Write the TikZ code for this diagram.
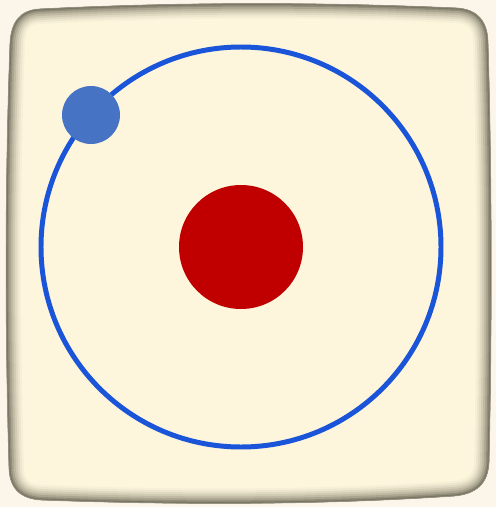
\documentclass[tikz,border=0pt]{standalone}
\definecolor{paper}{RGB}{252,246,234}
\definecolor{cushion}{RGB}{253,245,220}
\definecolor{rim}{RGB}{100,96,78}
\definecolor{orbit}{RGB}{26,84,216}
\definecolor{electron}{RGB}{70,115,196}
\definecolor{nucleus}{RGB}{192,0,0}
\tikzset{
  pillow/.style={insert path={(40,9) .. controls (180,2) and (320,2) .. (456,8)
    .. controls (478,9) and (488,22) .. (488,44)
    .. controls (492,180) and (492,330) .. (489,462)
    .. controls (488,484) and (476,494) .. (454,496)
    .. controls (320,505) and (180,505) .. (42,500)
    .. controls (20,499) and (9,488) .. (9,466)
    .. controls (5,330) and (5,180) .. (10,44)
    .. controls (11,22) and (20,10) .. (40,9) -- cycle}}
}
\begin{document}
\begin{tikzpicture}[x=0.02cm,y=-0.02cm]
    \fill[paper] (0,0) rectangle (496,507);
    \useasboundingbox (0,0) rectangle (496,507);
    \fill[cushion, pillow];
    \begin{scope}
    \clip[pillow];
    \foreach \w/\c in {30/96,26/90,22/82,18/72,14/60,10/46,6/30,3/15}
    \draw[line width=\w*0.567pt, color=cushion!\c!rim, pillow];
    \end{scope}
    \draw[rim!70, line width=0.4pt, pillow];
    \coordinate (core) at (241,247);
    \draw[orbit, line width=5*0.567pt] (core) circle[radius=200];
    \fill[nucleus] (core) circle[radius=62];
    \fill[electron] (91,115) circle[radius=29];
\end{tikzpicture}
\end{document}
